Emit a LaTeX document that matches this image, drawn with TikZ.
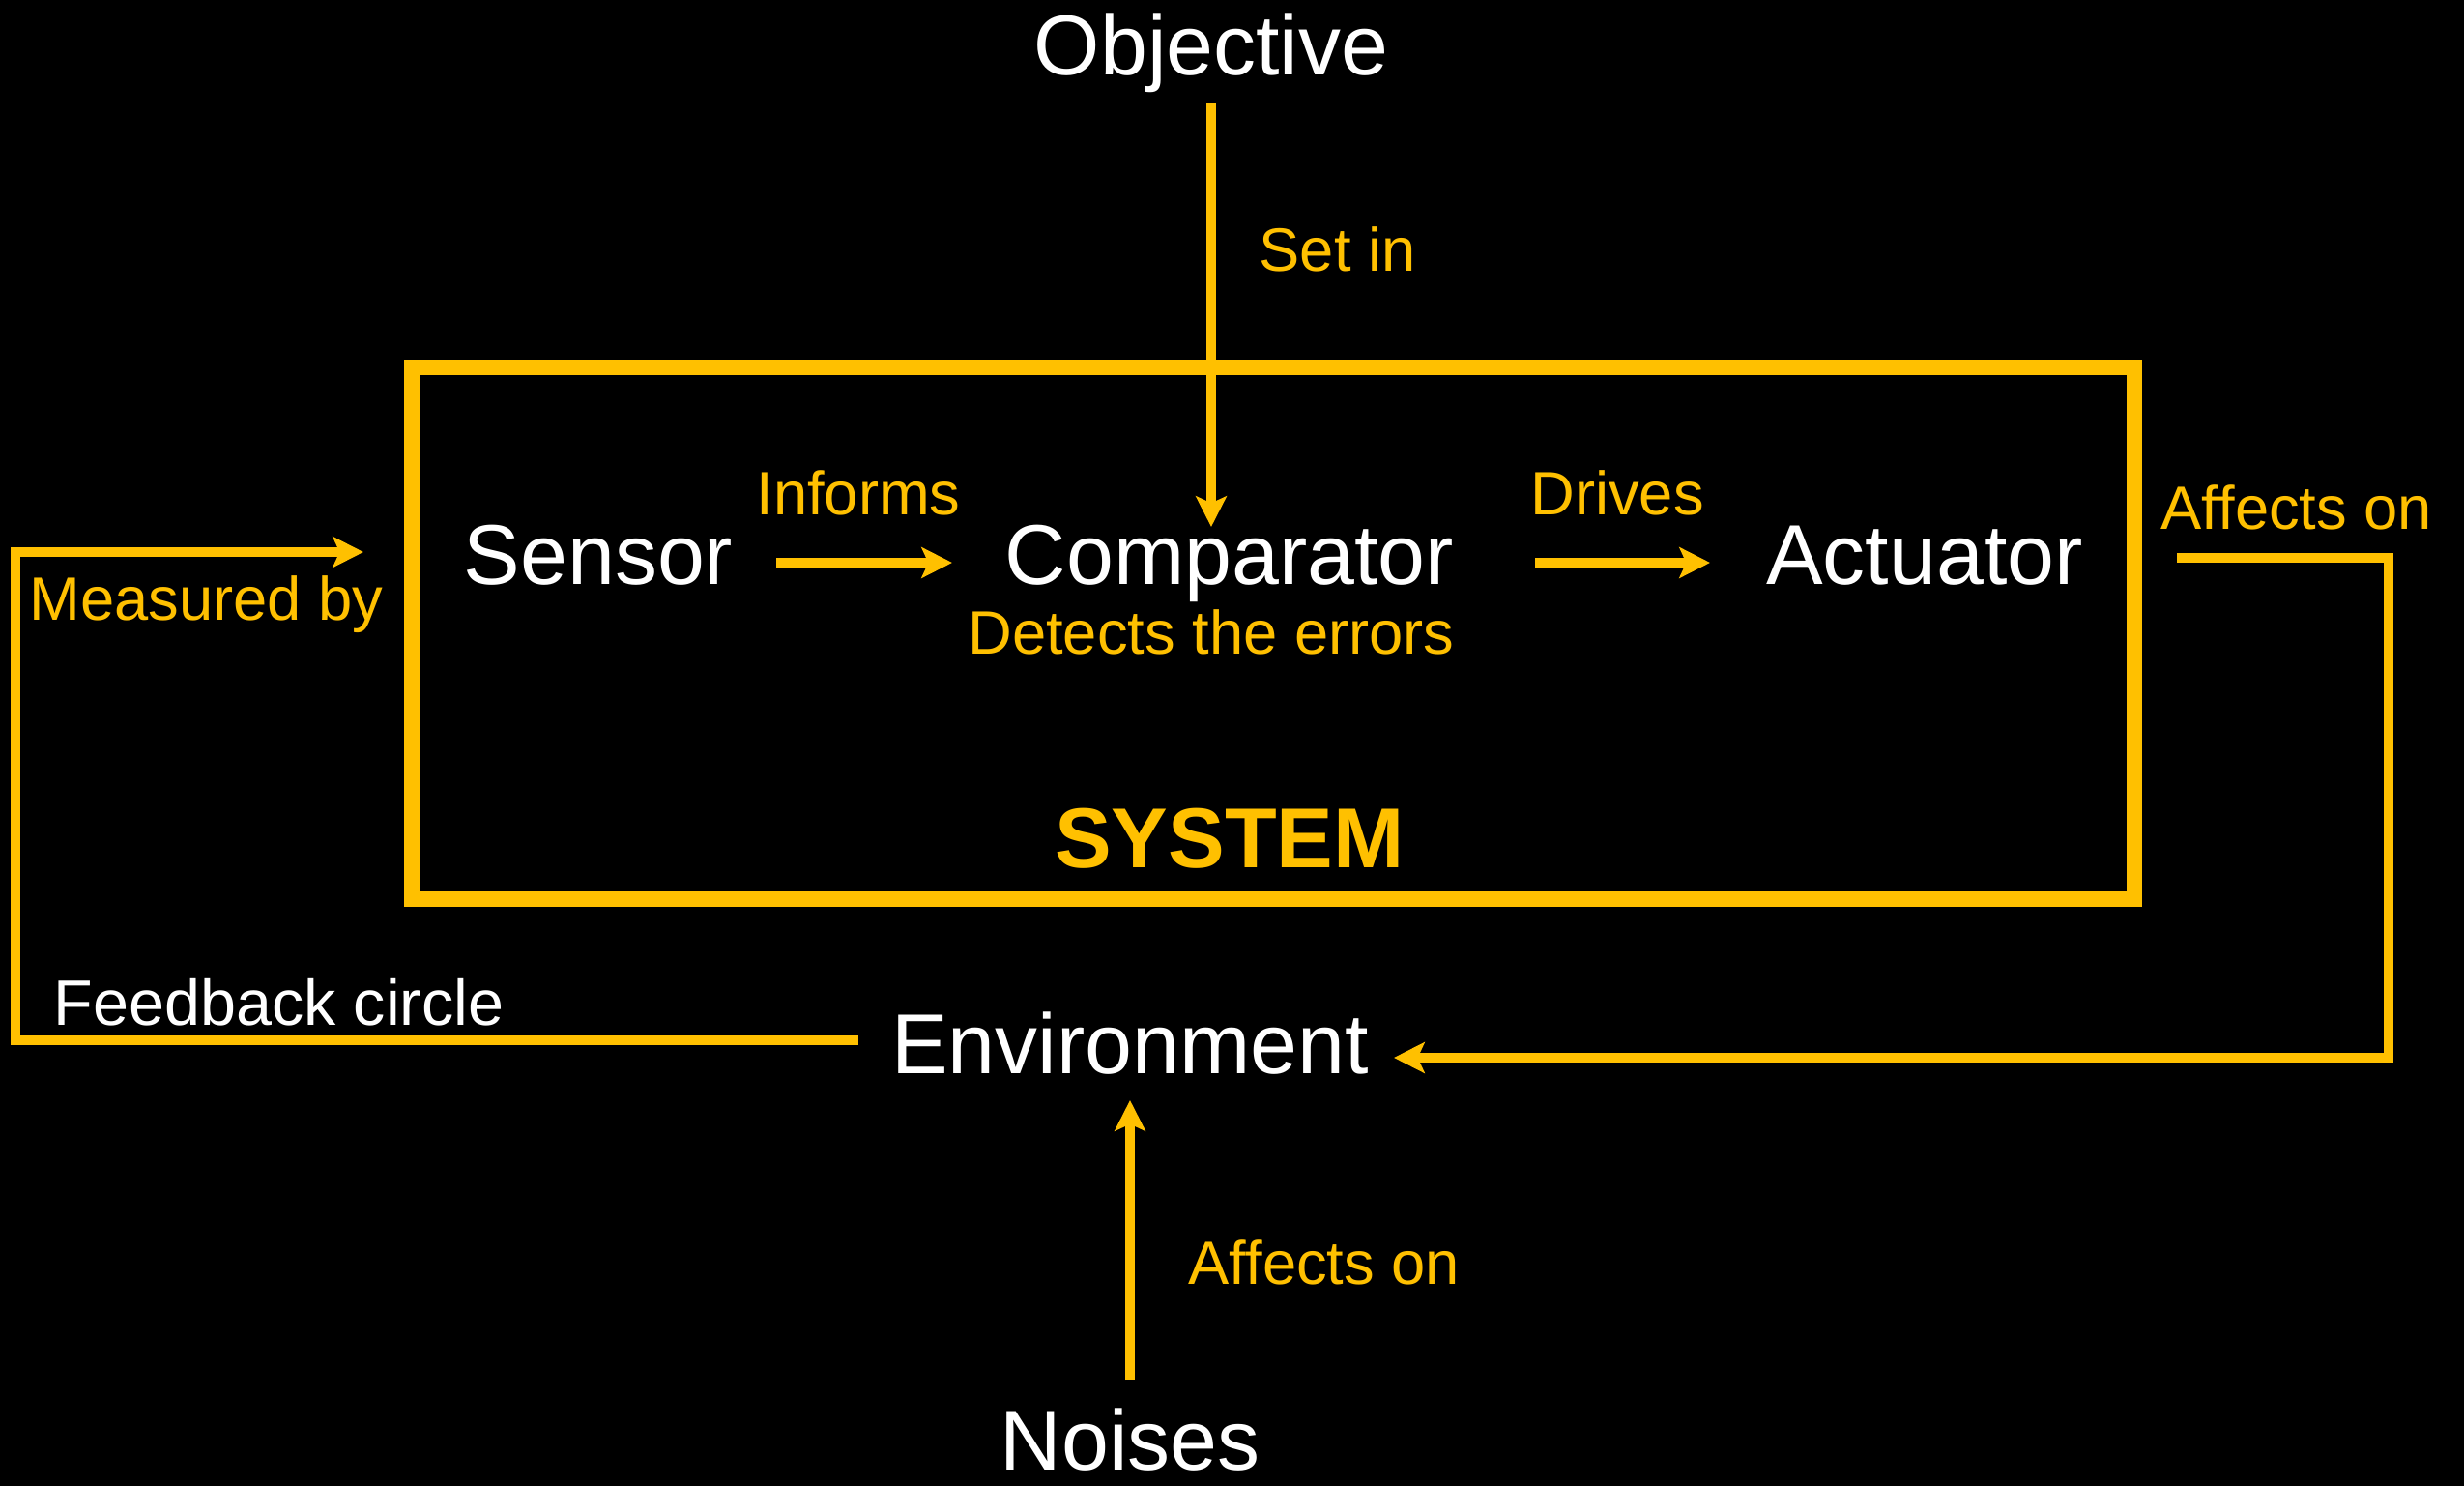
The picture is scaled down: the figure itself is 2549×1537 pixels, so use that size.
\documentclass[tikz,border=0pt]{standalone}
\usepackage{fontspec}
\setmainfont{Liberation Sans}
\usetikzlibrary{arrows.meta}
\definecolor{gold}{HTML}{FFC000}
\begin{document}
\begin{tikzpicture}[x=0.01cm,y=-0.01cm,
  big/.style={text=white,font=\fontsize{25}{30}\selectfont,inner sep=0pt,anchor=base},
  lbl/.style={text=gold,font=\fontsize{18}{22}\selectfont,inner sep=0pt,anchor=base},
  wire/.style={draw=gold,line width=2.85pt},
  arr/.style={wire,-{Stealth[length=9pt,width=9pt,inset=2pt]}},
  frame/.style={draw=gold,line width=4.8pt}
]
% canvas
\fill[black] (0,0) rectangle (2549,1537);
\useasboundingbox (0,0) rectangle (2549,1537);

% system frame
\draw[frame] (426,380) rectangle (2208,930);

% labels and blocks
\node[big] (obj) at (1253,78) {Objective};
\node[lbl,anchor=base west] (setin) at (1302,281) {Set in};
\node[big] (sen) at (619,605) {Sensor};
\node[lbl] (inf) at (888,533) {Informs};
\node[big] (cmp) at (1272,605) {Comparator};
\node[lbl] (det) at (1253,676) {Detects the errors};
\node[lbl] (drv) at (1673,533) {Drives};
\node[big] (act) at (1991,605) {Actuator};
\node[big,text=gold,font=\fontsize{25}{30}\selectfont\bfseries] (sys) at (1272,897) {SYSTEM};
\node[lbl,anchor=base west] (meas) at (30,642) {Measured by};
\node[lbl,anchor=base west,text=white,font=\fontsize{18.9}{22}\selectfont] (fb) at (55,1060) {Feedback circle};
\node[big] (env) at (1169,1110) {Environment};
\node[lbl,anchor=base west] (aff1) at (2235,548) {Affects on};
\node[big] (noi) at (1169,1520) {Noises};
\node[lbl,anchor=base west] (aff2) at (1229,1328) {Affects on};

% connector ends
\coordinate (objout) at (1253,107);
\coordinate (cmptop) at (1253,545);
\coordinate (senout) at (803,582);
\coordinate (cmpin) at (985,582);
\coordinate (cmpout) at (1588,582);
\coordinate (actin) at (1769,582);
\coordinate (envleft) at (888,1076);
\coordinate (fbcorner1) at (16,1076);
\coordinate (fbcorner2) at (16,571);
\coordinate (sysin) at (376,571);
\coordinate (sysout) at (2252,577);
\coordinate (rcorner1) at (2471,577);
\coordinate (rcorner2) at (2471,1094);
\coordinate (envright) at (1442,1094);
\coordinate (noiout) at (1169,1427);
\coordinate (envbottom) at (1169,1138);

% connectors
\draw[arr] (objout) -- (cmptop);
\draw[arr] (senout) -- (cmpin);
\draw[arr] (cmpout) -- (actin);
\draw[arr] (envleft) -- (fbcorner1) -- (fbcorner2) -- (sysin);
\draw[arr] (sysout) -- (rcorner1) -- (rcorner2) -- (envright);
\draw[arr] (noiout) -- (envbottom);
\end{tikzpicture}
\end{document}
